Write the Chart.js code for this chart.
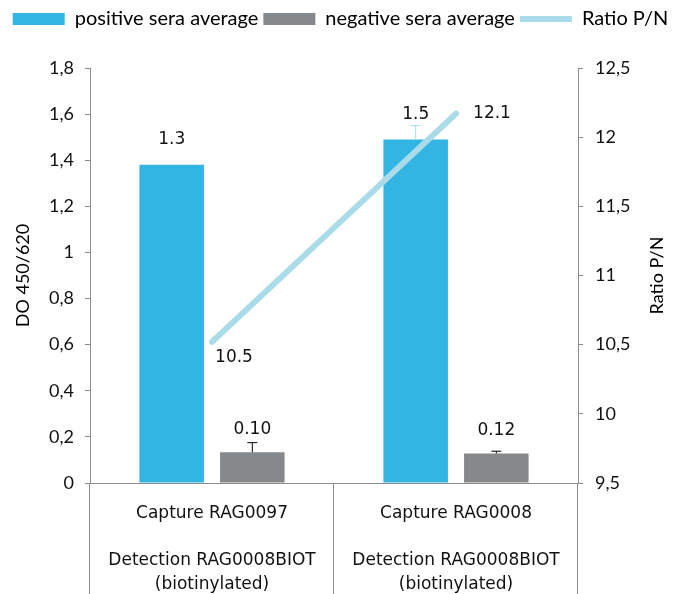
<!DOCTYPE html>
<html>
<head>
<meta charset="utf-8">
<script src="https://cdn.jsdelivr.net/npm/chart.js@4.4.1/dist/chart.umd.min.js"></script>
<style>
  html, body { margin: 0; padding: 0; background: #fff; }
  #wrap { width: 681px; height: 594px; }
</style>
</head>
<body>
<div id="wrap"><canvas id="ratioChart"></canvas></div>
<script>
// values
const categories = [
  ['Capture RAG0097', '', 'Detection RAG0008BIOT', '(biotinylated)'],
  ['Capture RAG0008', '', 'Detection RAG0008BIOT', '(biotinylated)']
];
const positiveAvg = [1.38, 1.49];
const negativeAvg = [0.133, 0.128];
const ratioPN = [10.52, 12.17];
const positiveErr = [0, 0.06];
const negativeErr = [0.042, 0.01];
const positiveLabels = ['1.3', '1.5'];
const negativeLabels = ['0.10', '0.12'];
const ratioLabels = ['10.5', '12.1'];
const leftTicks = { min: 0, max: 1.8, step: 0.2 };
const rightTicks = { min: 9.5, max: 12.5, step: 0.5 };
const rightTitle = 'Ratio P/N';

const BLUE = '#33b5e3';
const GREY = '#86898c';
const LIGHT = '#a9dbe8';
const AXIS = '#8c8c8c';
const TICK_FONT = { family: 'Lato', size: 18 };

function commaNum(v) {
  const r = Math.round(v * 10) / 10;
  return String(r).replace('.', ',');
}

// make room under the legend so the plot starts lower
const legendRoom = {
  id: 'legendRoom',
  afterInit(chart) {
    const lg = chart.legend;
    const fit = lg.fit.bind(lg);
    lg.fit = function () { fit(); this.height = 64; };
  }
};

// error bars + value labels + category separators + right title
const decorations = {
  id: 'decorations',
  afterDatasetsDraw(chart) {
    const ctx = chart.ctx;
    const y = chart.scales.y;
    const errs = [
      { meta: chart.getDatasetMeta(0), vals: positiveAvg, err: positiveErr, color: LIGHT },
      { meta: chart.getDatasetMeta(1), vals: negativeAvg, err: negativeErr, color: '#000' }
    ];
    ctx.save();
    errs.forEach(e => {
      e.meta.data.forEach((bar, i) => {
        if (!e.err[i]) return;
        const top = y.getPixelForValue(e.vals[i] + e.err[i]);
        ctx.strokeStyle = e.color;
        ctx.lineWidth = 1;
        ctx.beginPath();
        ctx.moveTo(bar.x, bar.y);
        ctx.lineTo(bar.x, top);
        ctx.moveTo(bar.x - 5, top);
        ctx.lineTo(bar.x + 5, top);
        ctx.stroke();
      });
    });

    ctx.fillStyle = '#111';
    ctx.font = '17px "DejaVu Sans"';
    ctx.textAlign = 'center';
    ctx.textBaseline = 'middle';
    chart.getDatasetMeta(0).data.forEach((bar, i) => ctx.fillText(positiveLabels[i], bar.x, bar.y - 25));
    chart.getDatasetMeta(1).data.forEach((bar, i) => ctx.fillText(negativeLabels[i], bar.x, bar.y - 23));
    const offs = [[22, 16], [36, 0]];
    chart.getDatasetMeta(2).data.forEach((pt, i) => ctx.fillText(ratioLabels[i], pt.x + offs[i][0], pt.y + offs[i][1]));

    const area = chart.chartArea;
    const n = categories.length;
    ctx.strokeStyle = AXIS;
    ctx.beginPath();
    for (let i = 0; i <= n; i++) {
      const x = Math.round(area.left + i * (area.right - area.left) / n) - 0.5;
      ctx.moveTo(x, area.bottom);
      ctx.lineTo(x, chart.height);
    }
    ctx.moveTo(area.left - 5, area.bottom + 0.5);
    ctx.lineTo(area.left, area.bottom + 0.5);
    ctx.moveTo(area.right, area.bottom + 0.5);
    ctx.lineTo(area.right + 5, area.bottom + 0.5);
    ctx.stroke();

    // right axis title reads bottom-to-top like the left one
    const r = chart.scales.y1;
    ctx.translate(r.right - 24, (area.top + area.bottom) / 2);
    ctx.rotate(-Math.PI / 2);
    ctx.fillStyle = '#000';
    ctx.font = '18px Lato';
    ctx.fillText(rightTitle, 0, 0);
    ctx.restore();
  }
};

const ctx = document.getElementById('ratioChart');
const chart = new Chart(ctx, {
  type: 'bar',
  data: {
    labels: categories,
    datasets: [{
      label: 'positive sera average',
      data: positiveAvg,
      backgroundColor: BLUE,
      pointStyle: 'rect',
      categoryPercentage: 0.661,
      barPercentage: 0.8,
      order: 1
    }, {
      label: 'negative sera average',
      data: negativeAvg,
      backgroundColor: GREY,
      pointStyle: 'rect',
      categoryPercentage: 0.661,
      barPercentage: 0.8,
      order: 2
    }, {
      label: 'Ratio P/N',
      type: 'line',
      data: ratioPN,
      yAxisID: 'y1',
      borderColor: LIGHT,
      backgroundColor: LIGHT,
      borderWidth: 6,
      borderCapStyle: 'round',
      pointRadius: 0,
      pointStyle: 'line',
      order: 0
    }]
  },
  options: {
    responsive: true,
    maintainAspectRatio: false,
    animation: false,
    layout: { padding: { top: 4 } },
    plugins: {
      tooltip: { enabled: false },
      legend: {
        position: 'top',
        align: 'center',
        labels: {
          usePointStyle: true,
          pointStyleWidth: 52,
          boxHeight: 12,
          padding: 5,
          color: '#000',
          font: { family: 'Lato', size: 20 },
          sort: (a, b) => a.datasetIndex - b.datasetIndex
        }
      }
    },
    scales: {
      x: {
        offset: true,
        grid: { display: false, drawTicks: false },
        border: { color: AXIS },
        ticks: {
          color: '#111',
          font: { family: 'DejaVu Sans', size: 17, lineHeight: 1.38 },
          padding: 19,
          maxRotation: 0,
          autoSkip: false
        },
        afterFit: s => { s.height = 111; }
      },
      y: {
        position: 'left',
        min: leftTicks.min,
        max: leftTicks.max,
        ticks: {
          stepSize: leftTicks.step,
          color: '#111',
          font: TICK_FONT,
          padding: 11,
          callback: v => commaNum(v)
        },
        grid: { drawOnChartArea: false, tickLength: 5, color: AXIS },
        border: { color: AXIS },
        title: {
          display: true,
          text: 'DO 450/620',
          color: '#000',
          font: TICK_FONT,
          padding: { top: 12 }
        },
        afterFit: s => { s.width = 90; }
      },
      y1: {
        position: 'right',
        min: rightTicks.min,
        max: rightTicks.max,
        ticks: {
          stepSize: rightTicks.step,
          color: '#111',
          font: TICK_FONT,
          padding: 12,
          callback: v => commaNum(v)
        },
        grid: { drawOnChartArea: false, tickLength: 5, color: AXIS },
        border: { color: AXIS },
        title: { display: false },
        afterFit: s => { s.width = 103; }
      }
    }
  },
  plugins: [legendRoom, decorations]
});
</script>
</body>
</html>
